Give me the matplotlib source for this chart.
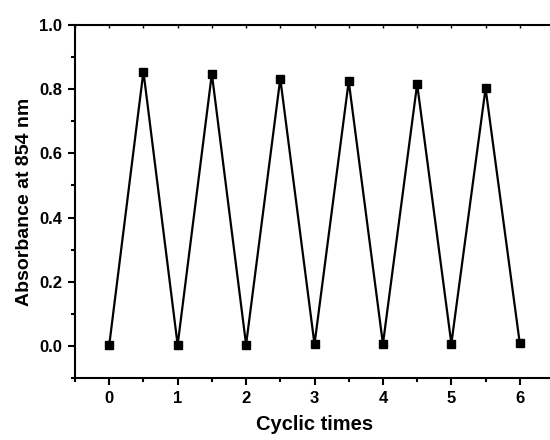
import numpy as np
import matplotlib
matplotlib.use("Agg")
import matplotlib.pyplot as plt
from matplotlib.ticker import MultipleLocator

# cyclic absorbance data
cycles = [0, 0.5, 1, 1.5, 2, 2.5, 3, 3.5, 4, 4.5, 5, 5.5, 6]
absorb = [0.002, 0.855, 0.003, 0.848, 0.004, 0.833, 0.005, 0.825,
          0.006, 0.816, 0.007, 0.803, 0.008]
xticks = [0, 1, 2, 3, 4, 5, 6]
yticks = [0.0, 0.2, 0.4, 0.6, 0.8, 1.0]

plt.rcParams['font.family'] = ['Liberation Sans', 'DejaVu Sans']
plt.rcParams['font.weight'] = 'bold'

fig = plt.figure(figsize=(5.5, 4.4), dpi=100)
ax = fig.add_axes([75 / 550, 1 - 378 / 440, 479 / 550, 353 / 440])

ax.plot(cycles, absorb, color='black', lw=1.6, marker='s', ms=6,
        mfc='black', mec='black')

ax.set_xlim(-0.5, 6.5)
ax.set_ylim(-0.1, 1.0)
ax.set_xticks(xticks)
ax.set_yticks(yticks)
ax.set_yticklabels(['%.1f' % v for v in yticks])
ax.xaxis.set_minor_locator(MultipleLocator(0.5))
ax.yaxis.set_minor_locator(MultipleLocator(0.1))

for s in ['left', 'bottom', 'top']:
    ax.spines[s].set_linewidth(1.5)
ax.spines['right'].set_visible(False)

ax.tick_params(axis='both', which='major', direction='out', length=5,
               width=1.5, labelsize=12, pad=4)
ax.tick_params(axis='both', which='minor', direction='out', length=3,
               width=1.5)
ax.tick_params(axis='x', which='both', top=True)
for t in ax.xaxis.get_major_ticks() + ax.xaxis.get_minor_ticks():
    t.tick2line.set_marker(3)  # small tick pointing down from top spine
    t.tick2line.set_markersize(2)
    t.tick2line.set_markeredgewidth(1)

ax.set_xlabel('Cyclic times', fontsize=14.5, fontweight='bold', labelpad=7)
ax.set_ylabel('Absorbance at 854 nm', fontsize=14, fontweight='bold', labelpad=5)

fig.savefig('out.png', dpi=100)
